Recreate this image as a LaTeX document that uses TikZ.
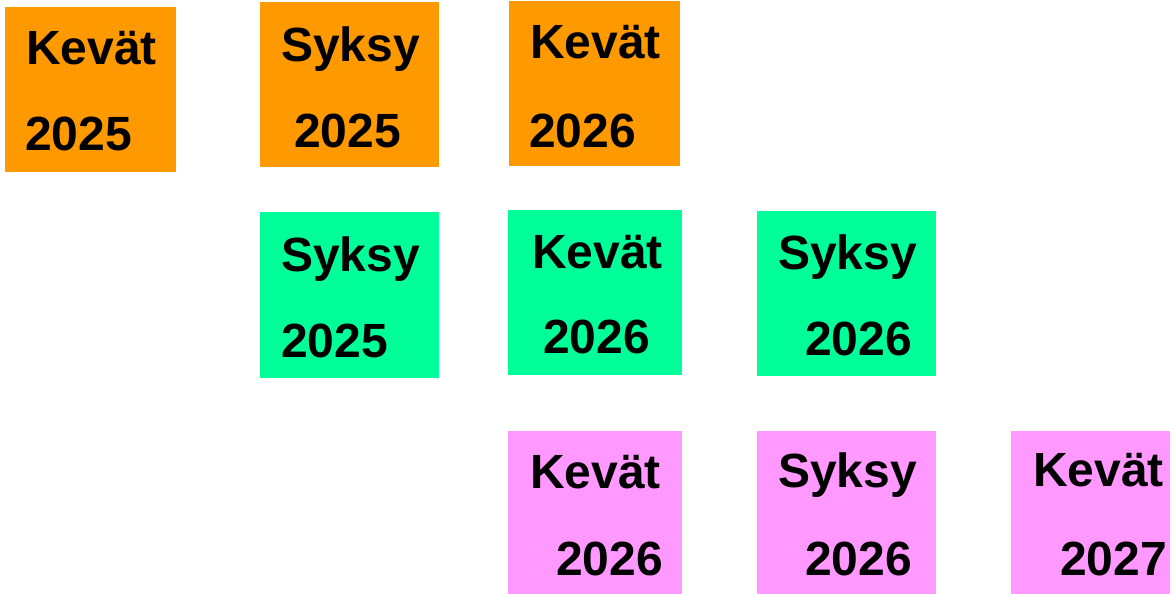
\documentclass[tikz,border=0pt]{standalone}
\usepackage{fontspec}
\setmainfont{Liberation Sans}
\definecolor{cOrange}{HTML}{FF9900}
\definecolor{cGreen}{HTML}{00FF99}
\definecolor{cPink}{HTML}{FF99FF}
\tikzset{
  tile/.style={rectangle, inner sep=0pt, outer sep=0pt, draw=none},
  lbl/.style={inner sep=0pt, outer sep=0pt, anchor=base west,
    font=\fontsize{48}{56}\selectfont\bfseries, text=black}
}
\newcommand{\tilebox}[6]{%
  % name, color, x1, y1, x2, y2
  \path[fill=#2] (#3,#4) rectangle (#5,#6);
  \node[tile, minimum width={(#5-#3)*1pt}, minimum height={(#6-#4)*1pt}] (#1) at ({(#3+#5)/2},{(#4+#6)/2}) {};
}
\begin{document}
\begin{tikzpicture}[x=1pt,y=-1pt]
\useasboundingbox (0,0) rectangle (1170,594);
% row 1 orange
\tilebox{a1}{cOrange}{5}{7}{176}{172}
\tilebox{a2}{cOrange}{260}{2}{439}{167}
\tilebox{a3}{cOrange}{509}{1}{680}{166}
% row 2 green
\tilebox{b1}{cGreen}{260}{212}{439}{378}
\tilebox{b2}{cGreen}{508}{210}{682}{375}
\tilebox{b3}{cGreen}{757}{211}{936}{376}
% row 3 pink
\tilebox{c1}{cPink}{508}{431}{682}{594}
\tilebox{c2}{cPink}{757}{431}{936}{594}
\tilebox{c3}{cPink}{1011}{431}{1170}{594}
% labels
\node[lbl] (ta1a) at (26,64) {Kevät};
\node[lbl] (ta1b) at (25,150) {2025};
\node[lbl] (ta2a) at (281,62) {Syksy};
\node[lbl] (ta2b) at (294,147) {2025};
\node[lbl] (ta3a) at (530,59) {Kevät};
\node[lbl] (ta3b) at (529,147) {2026};
\node[lbl] (tb1a) at (281,271) {Syksy};
\node[lbl] (tb1b) at (281,357) {2025};
\node[lbl] (tb2a) at (532,268) {Kevät};
\node[lbl] (tb2b) at (543,353) {2026};
\node[lbl] (tb3a) at (778,269) {Syksy};
\node[lbl] (tb3b) at (805,355) {2026};
\node[lbl] (tc1a) at (530,488) {Kevät};
\node[lbl] (tc1b) at (556,575) {2026};
\node[lbl] (tc2a) at (778,487) {Syksy};
\node[lbl] (tc2b) at (805,575) {2026};
\node[lbl] (tc3a) at (1033,486) {Kevät};
\node[lbl] (tc3b) at (1060,575) {2027};
\end{tikzpicture}
\end{document}
